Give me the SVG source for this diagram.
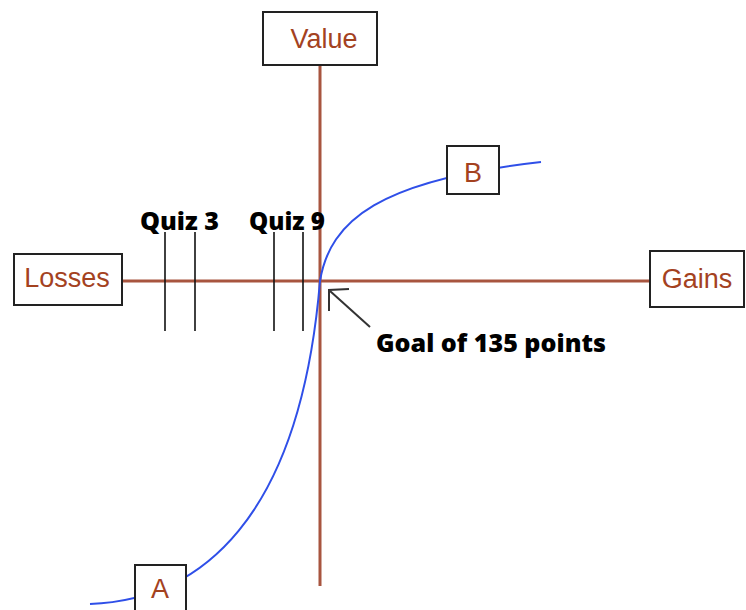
<svg xmlns="http://www.w3.org/2000/svg" width="746" height="610" viewBox="0 0 746 610">
<style>
.box{fill:#fff;stroke:#222;stroke-width:2}
.lbl{font-family:"Liberation Sans",Arial,sans-serif;font-size:27px;fill:#a4421f;text-anchor:middle}
.axis{stroke:#a8553f;stroke-width:3;fill:none}
.tick{stroke:#111;stroke-width:1.6}
.quiz{font-family:"Open Sans","DejaVu Sans",sans-serif;font-weight:800;font-size:24px;fill:#000}
.curve{stroke:#2f4fe8;stroke-width:2;fill:none}
.arrow{stroke:#333;stroke-width:2;fill:none}
</style>
<g id="connectors">
<line class="axis" x1="320" y1="65" x2="320" y2="586"/>
<line class="axis" x1="122" y1="281" x2="650" y2="281"/>
<line class="tick" x1="165" y1="232" x2="165" y2="331"/>
<line class="tick" x1="195" y1="232" x2="195" y2="331"/>
<line class="tick" x1="274" y1="232" x2="274" y2="331"/>
<line class="tick" x1="303" y1="232" x2="303" y2="331"/>
<path class="curve" d="M90 604 C200 600 300 520 320 281 C330 220 380 180 541 162"/>
<line class="arrow" x1="370" y1="327" x2="330" y2="291"/>
<polyline class="arrow" points="349,289 329,290 329,311"/>
</g>
<g id="value"><rect class="box" x="263" y="12" width="114" height="53"/><text class="lbl" x="324" y="48">Value</text></g>
<g id="losses"><rect class="box" x="14" y="254" width="108" height="51"/><text class="lbl" x="67" y="287">Losses</text></g>
<g id="gains"><rect class="box" x="650" y="251" width="94" height="56"/><text class="lbl" x="697" y="288">Gains</text></g>
<g id="b"><rect class="box" x="447" y="146" width="52" height="48"/><text class="lbl" x="473" y="182">B</text></g>
<g id="a"><rect class="box" x="135" y="565" width="51" height="50"/><text class="lbl" x="160" y="598">A</text></g>
<g id="quiz3"><text class="quiz" x="140" y="230" textLength="79" lengthAdjust="spacingAndGlyphs">Quiz 3</text></g>
<g id="quiz9"><text class="quiz" x="249" y="230" textLength="76" lengthAdjust="spacingAndGlyphs">Quiz 9</text></g>
<g id="goal"><text class="quiz" x="376" y="352" textLength="230" lengthAdjust="spacingAndGlyphs">Goal of 135 points</text></g>
</svg>
